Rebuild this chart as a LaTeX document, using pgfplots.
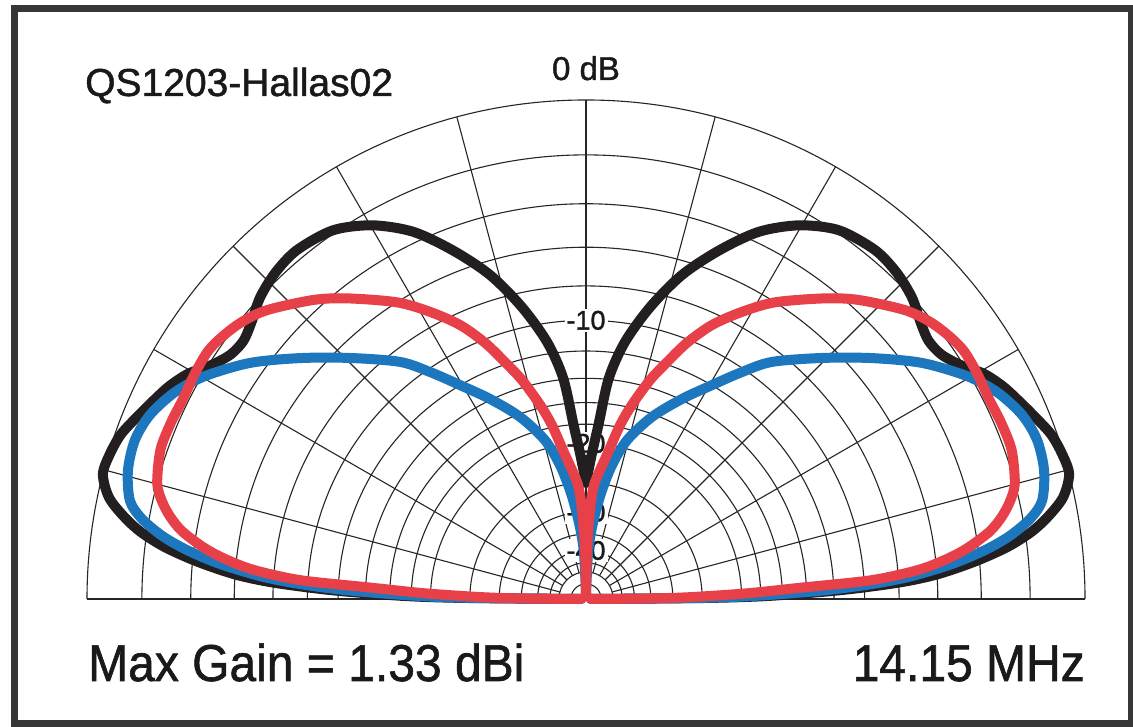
\documentclass[border=0pt]{standalone}
\usepackage{pgfplots}
\pgfplotsset{compat=1.18}
\usepackage{pgfplotstable}
\usepackage{fontspec}
\setmainfont{Liberation Sans}
\newfontfamily\heavy[FakeBold=1.2]{Liberation Sans}

\definecolor{cblack}{RGB}{35,31,32}
\definecolor{cblue}{RGB}{28,119,190}
\definecolor{cred}{RGB}{232,64,72}
\definecolor{framec}{RGB}{55,55,55}

% elevation angle (deg) and relative gain (dB), left half of each pattern
\pgfplotstableread{
ang db
0 -80
0.5 -24
1 -17
2 -11.5
3 -8
4 -6
5.5 -4.2
7 -2.8
8.5 -1.8
10 -1.1
12 -0.4
14.5 0
17 -0.05
19.5 -0.2
22 -0.5
24.5 -0.8
27 -1.1
29.5 -1.5
32 -2.1
34.5 -2.5
37 -2.6
39.5 -2.4
42.8 -2.0
46.5 -1.75
50.4 -1.66
55.6 -1.89
60.3 -2.55
64.8 -3.55
69.1 -4.99
73.5 -6.69
77.6 -8.79
81.4 -11.2
84.1 -13.9
85.9 -18.0
87.7 -21.2
90 -25
}\blackdata

\pgfplotstableread{
ang db
0 -80
0.5 -27
1 -19
2 -13
3 -9.5
4 -7.3
5.5 -5.2
7 -3.7
8.5 -2.6
10.3 -1.7
12.2 -1.15
15.7 -0.82
19.4 -0.73
22.9 -0.91
26.7 -1.39
30.3 -2.1
35.1 -3.35
40.1 -4.95
45.6 -6.72
51.9 -8.66
55.5 -10.2
59.5 -11.98
64.4 -13.92
70.1 -16.25
75.5 -19.08
79 -22.25
81.6 -25.9
83.5 -29.5
85.5 -34
87.5 -41
90 -80
}\bluedata

\pgfplotstableread{
ang db
0 -80
0.5 -35
1 -27
2 -19.5
3 -14.5
3.7 -9.8
4.5 -7.8
5.3 -6.5
6.5 -5.3
7.7 -4.4
9.5 -3.4
11.2 -2.8
13 -2.35
15.1 -2.0
19.3 -1.74
23 -1.74
26.3 -1.78
30 -1.72
33.3 -1.7
36 -1.85
38.9 -2.1
42.2 -2.55
47.6 -3.59
51.5 -4.49
57.5 -6.0
61.5 -7.27
65.3 -8.64
68.5 -10.21
71.1 -11.83
73.7 -13.43
76.7 -15.74
78.9 -17.76
81.7 -21.1
83.8 -23.1
86 -25.3
87.1 -28.1
88 -33
89 -42
90 -80
}\reddata

\pgfplotsset{pat/.style={line width=10bp, line join=round, line cap=round, smooth, tension=0.5}}

\begin{document}
\begin{tikzpicture}[x=1bp,y=1bp]
\path[use as bounding box] (0,0) rectangle (1133,727);
\fill[white] (0,0) rectangle (1133,727);
\draw[framec, line width=7bp] (14.5,718) rectangle (1131,3);
\begin{axis}[at={(586bp,128bp)}, anchor=origin, x=499bp, y=499bp,
  xmin=-1, xmax=1, ymin=0, ymax=1, hide axis, clip=false]
  % grid circles (ARRL log scale, 0.89 per 2 dB)
  \pgfplotsinvokeforeach{0,-2,-4,-6,-8,-10,-12,-14,-16,-18,-20,-25,-30,-35,-40,-45,-50,-60}{
    \draw[black!85, line width=1.1bp] (axis cs:{0.89^(-0.5*(#1))},0)
      arc[start angle=0, end angle=180, radius={499bp*0.89^(-0.5*(#1))}];
  }
  \pgfplotsinvokeforeach{15,30,45,60,75,90,105,120,135,150,165}{
    \draw[black!85, line width=1.1bp] (axis cs:{0.054*cos(#1)},{0.054*sin(#1)}) -- (axis cs:{cos(#1)},{sin(#1)});
  }
  \draw[black!85, line width=1.6bp] (axis cs:-1,0) -- (axis cs:1,0);
  % scale labels
  \pgfplotsinvokeforeach{-10,-20,-30,-40}{
    \node[fill=white, inner sep=2bp, font=\heavy\fontsize{27bp}{27bp}\selectfont, text=black!90] at (axis cs:0,{0.89^(-0.5*(#1))}) {#1};
  }
  % patterns: black, blue, red (mirrored for the right half)
  \addplot[cblack, pat] table[x expr={(0.89^(-0.5*(\thisrow{db})))*cos(\thisrow{ang})}, y expr={(0.89^(-0.5*(\thisrow{db})))*sin(\thisrow{ang})}] {\blackdata};
  \addplot[cblack, pat] table[x expr={(0.89^(-0.5*(\thisrow{db})))*cos(180-\thisrow{ang})}, y expr={(0.89^(-0.5*(\thisrow{db})))*sin(\thisrow{ang})}] {\blackdata};
  \addplot[cblue, pat] table[x expr={(0.89^(-0.5*(\thisrow{db})))*cos(\thisrow{ang})}, y expr={(0.89^(-0.5*(\thisrow{db})))*sin(\thisrow{ang})}] {\bluedata};
  \addplot[cblue, pat] table[x expr={(0.89^(-0.5*(\thisrow{db})))*cos(180-\thisrow{ang})}, y expr={(0.89^(-0.5*(\thisrow{db})))*sin(\thisrow{ang})}] {\bluedata};
  \addplot[cred, pat] table[x expr={(0.89^(-0.5*(\thisrow{db})))*cos(\thisrow{ang})}, y expr={(0.89^(-0.5*(\thisrow{db})))*sin(\thisrow{ang})}] {\reddata};
  \addplot[cred, pat] table[x expr={(0.89^(-0.5*(\thisrow{db})))*cos(180-\thisrow{ang})}, y expr={(0.89^(-0.5*(\thisrow{db})))*sin(\thisrow{ang})}] {\reddata};
\end{axis}
\node[anchor=base west, inner sep=0, font=\heavy\fontsize{39bp}{39bp}\selectfont, text=black!90] at (85,631) {QS1203-Hallas02};
\node[anchor=base, inner sep=0, font=\heavy\fontsize{33bp}{33bp}\selectfont, text=black!90] at (586,647) {0 dB};
\node[anchor=base west, inner sep=0, font=\heavy\fontsize{48bp}{48bp}\selectfont, text=black!90] at (88,46) {\scalebox{1}[1.08]{Max Gain = 1.33 dBi}};
\node[anchor=base east, inner sep=0, font=\heavy\fontsize{48bp}{48bp}\selectfont, text=black!90] at (1085,46) {\scalebox{1}[1.08]{14.15 MHz}};
\end{tikzpicture}
\end{document}
